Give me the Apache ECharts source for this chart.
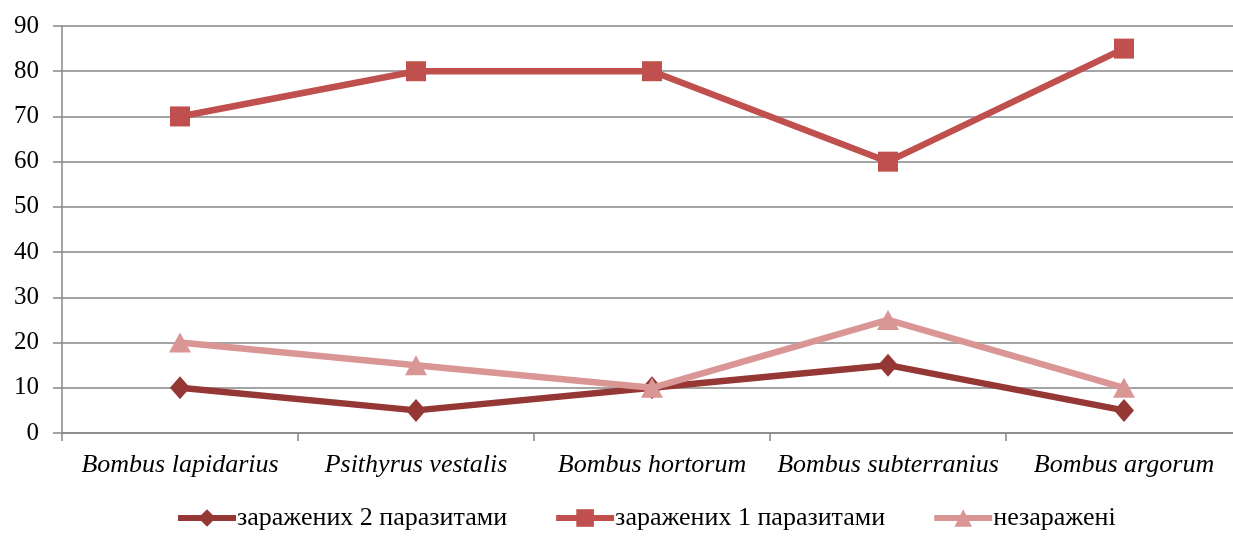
<!DOCTYPE html>
<html>
<head>
<meta charset="utf-8">
<script src="https://cdn.jsdelivr.net/npm/echarts@6/dist/echarts.min.js"></script>
<style>
  html, body { margin: 0; padding: 0; background: #fff; }
  #chart { width: 1233px; height: 538px; }
</style>
</head>
<body>
<div id="chart"></div>
<script>
// data
const categories = ["Bombus lapidarius", "Psithyrus vestalis", "Bombus hortorum", "Bombus subterranius", "Bombus argorum"];
const infected2 = [10, 5, 10, 15, 5];
const infected1 = [70, 80, 80, 60, 85];
const uninfected = [20, 15, 10, 25, 10];
const seriesNames = ["заражених 2 паразитами", "заражених 1 паразитами", "незаражені"];

const font = "'Liberation Serif', 'Times New Roman', serif";
const axisGray = "#868686";

let chart = echarts.init(document.getElementById("chart"));

let option = {
  animation: false,
  textStyle: { fontFamily: font },
  color: ["#953735", "#c0504d", "#d99694"],
  grid: {
    left: 62,
    width: 1180,
    top: 26,
    bottom: 105,
    outerBoundsMode: "none",
    containLabel: false
  },
  legend: {
    bottom: 2,
    left: 170,
    itemWidth: 58,
    itemHeight: 22,
    itemGap: 46,
    lineStyle: { width: 6 },
    textStyle: {
      fontFamily: font,
      fontSize: 26,
      color: "#000",
      padding: [0, 0, 0, -4]
    },
    data: seriesNames
  },
  xAxis: {
    type: "category",
    data: categories,
    boundaryGap: true,
    axisLine: { lineStyle: { color: axisGray, width: 1.5 } },
    axisTick: { show: true, interval: 0, length: 8, lineStyle: { color: axisGray, width: 1.5 } },
    axisLabel: {
      interval: 0,
      margin: 19,
      color: "#000",
      fontSize: 26,
      fontStyle: "italic",
      fontFamily: font
    }
  },
  yAxis: {
    type: "value",
    min: 0,
    max: 90,
    interval: 10,
    axisLine: { show: true, lineStyle: { color: axisGray, width: 1.5 } },
    axisTick: { show: true, length: 9, lineStyle: { color: axisGray, width: 1.5 } },
    splitLine: { lineStyle: { color: axisGray, width: 1.5 } },
    axisLabel: {
      margin: 23,
      color: "#000",
      fontSize: 25,
      fontFamily: font
    }
  },
  series: [
    {
      name: seriesNames[0],
      type: "line",
      data: infected2,
      symbol: "diamond",
      symbolSize: [20, 23],
      lineStyle: { width: 6.5 },
      z: 3
    },
    {
      name: seriesNames[1],
      type: "line",
      data: infected1,
      symbol: "rect",
      symbolSize: 20,
      lineStyle: { width: 6.5 },
      z: 2
    },
    {
      name: seriesNames[2],
      type: "line",
      data: uninfected,
      symbol: "triangle",
      symbolSize: [22, 20],
      lineStyle: { width: 6.5 },
      z: 4
    }
  ]
};

chart.setOption(option);
</script>
</body>
</html>
